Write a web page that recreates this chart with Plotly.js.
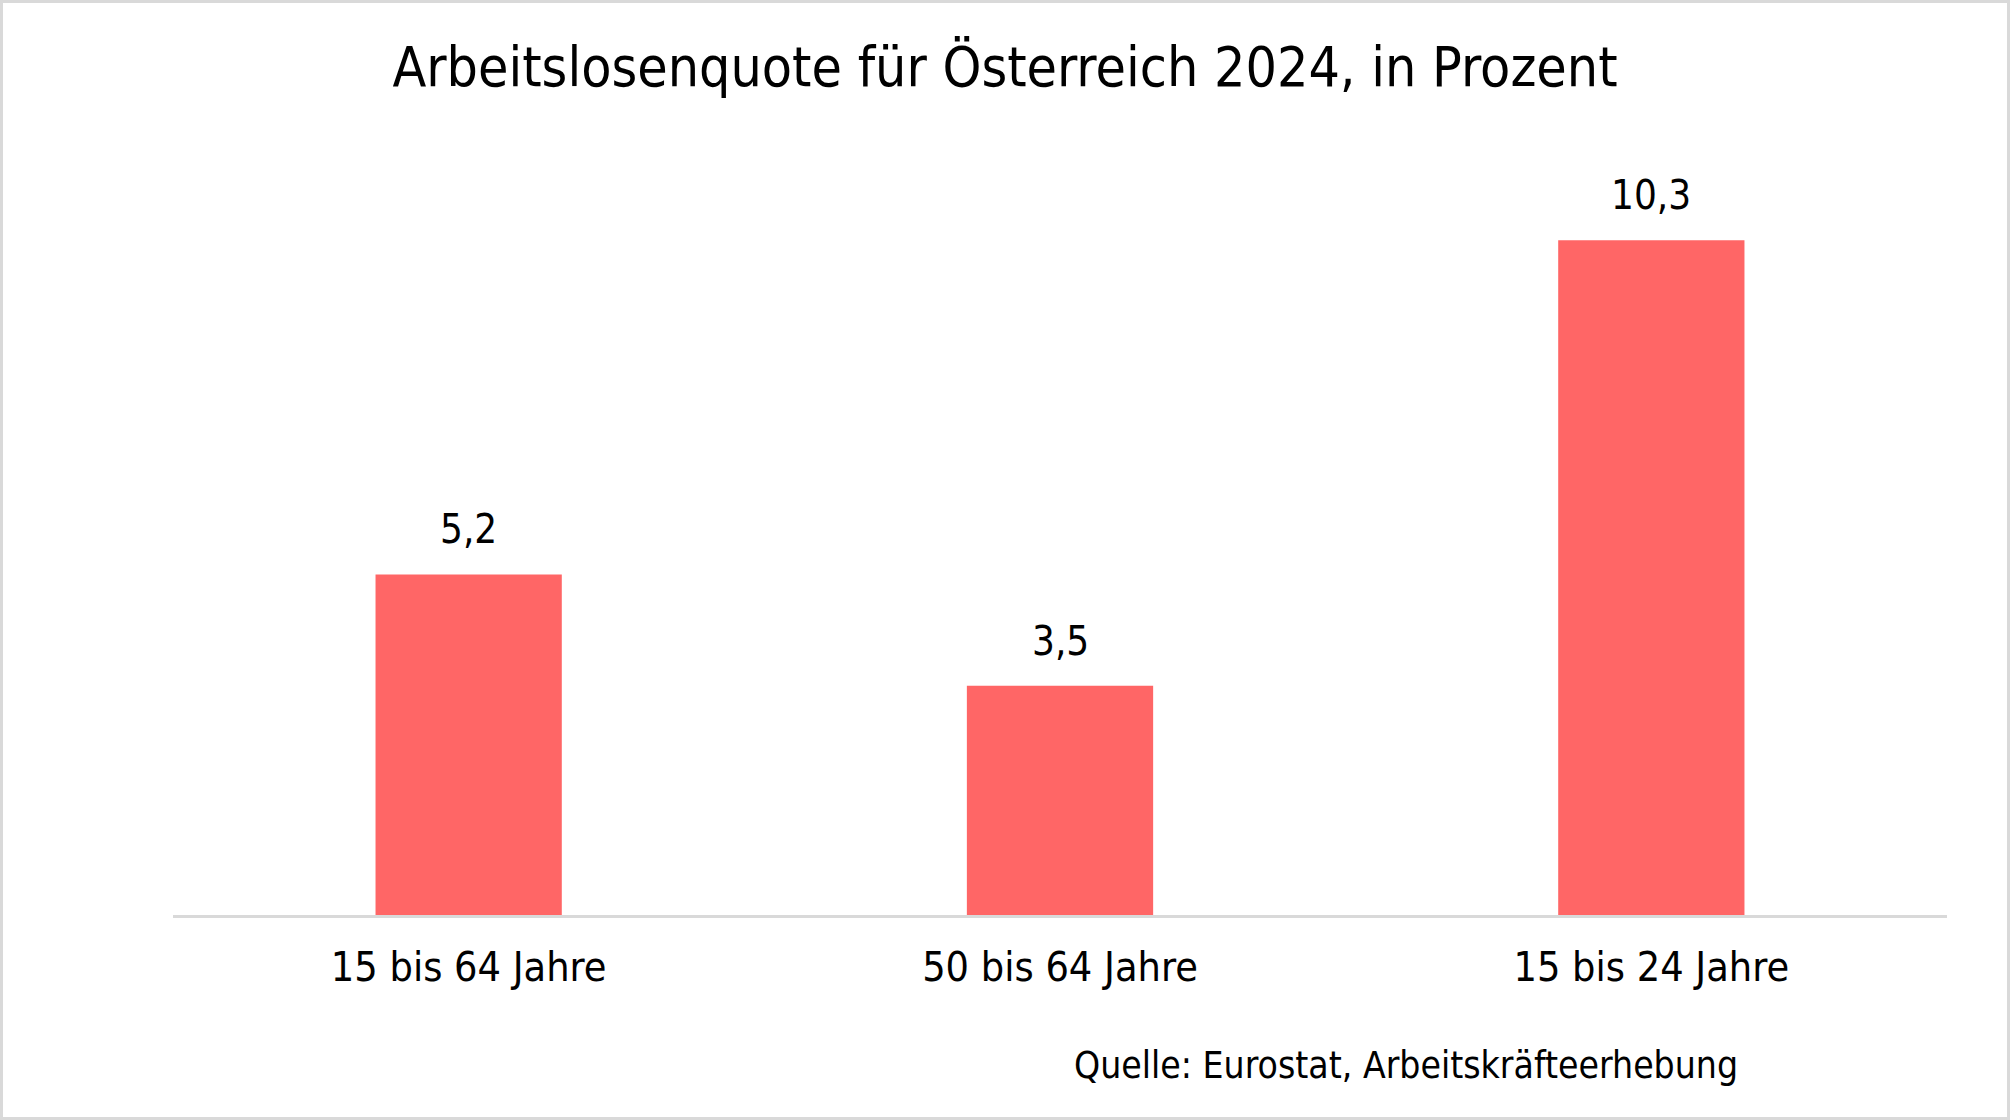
<!DOCTYPE html>
<html>
<head>
<meta charset="utf-8">
<script src="https://cdn.plot.ly/plotly-3.0.1.min.js"></script>
<style>
html,body{margin:0;padding:0;background:#fff;}
#wrap{position:relative;width:2010px;height:1120px;}
#chart{width:2010px;height:1120px;}
#frame{position:absolute;left:0;top:0;width:2010px;height:1120px;box-sizing:border-box;border:3px solid #d9d9d9;pointer-events:none;}
</style>
</head>
<body>
<div id="wrap"><div id="chart"></div><div id="frame"></div></div>
<script>
const categories = ["15 bis 64 Jahre", "50 bis 64 Jahre", "15 bis 24 Jahre"];
const values = [5.2, 3.5, 10.3];
const chartTitle = "Arbeitslosenquote für Österreich 2024, in Prozent";
const sourceText = "Quelle: Eurostat, Arbeitskräfteerhebung";

const FONT = "DejaVu Sans Condensed, DejaVu Sans, sans-serif";

const trace = {
  type: "bar",
  x: categories,
  y: values,
  marker: {color: "#FF6666"},
  hoverinfo: "none"
};

const labelAnnotations = categories.map((c, i) => ({
  x: c, y: values[i], xref: "x", yref: "y",
  text: values[i].toFixed(1).replace(".", ","),
  showarrow: false, yanchor: "bottom", yshift: 20,
  font: {family: FONT, size: 40, color: "#000"}
}));

const layout = {
  width: 2010, height: 1120,
  paper_bgcolor: "#fff", plot_bgcolor: "#fff",
  margin: {l: 173, r: 63, t: 129, b: 205},
  bargap: 0.685,
  showlegend: false,
  title: {
    text: chartTitle,
    font: {family: FONT, size: 55, color: "#000"},
    x: 0.5, xanchor: "center",
    y: 1 - 67/1120, yref: "container", yanchor: "middle"
  },
  xaxis: {
    type: "category",
    showgrid: false, zeroline: false,
    showline: true, linecolor: "#d9d9d9", linewidth: 3,
    ticks: "", ticklabelstandoff: 14,
    tickfont: {family: FONT, size: 41, color: "#000"}
  },
  yaxis: {
    range: [0, 12], visible: false, showgrid: false, zeroline: false, fixedrange: true
  },
  annotations: labelAnnotations.concat([{
    xref: "paper", yref: "paper",
    x: (1406 - 173) / 1774, y: (915 - 1065) / 786,
    xanchor: "center", yanchor: "middle",
    text: sourceText, showarrow: false,
    font: {family: FONT, size: 37, color: "#000"}
  }])
};

Plotly.newPlot("chart", [trace], layout, {displayModeBar: false, staticPlot: true});
</script>
</body>
</html>
